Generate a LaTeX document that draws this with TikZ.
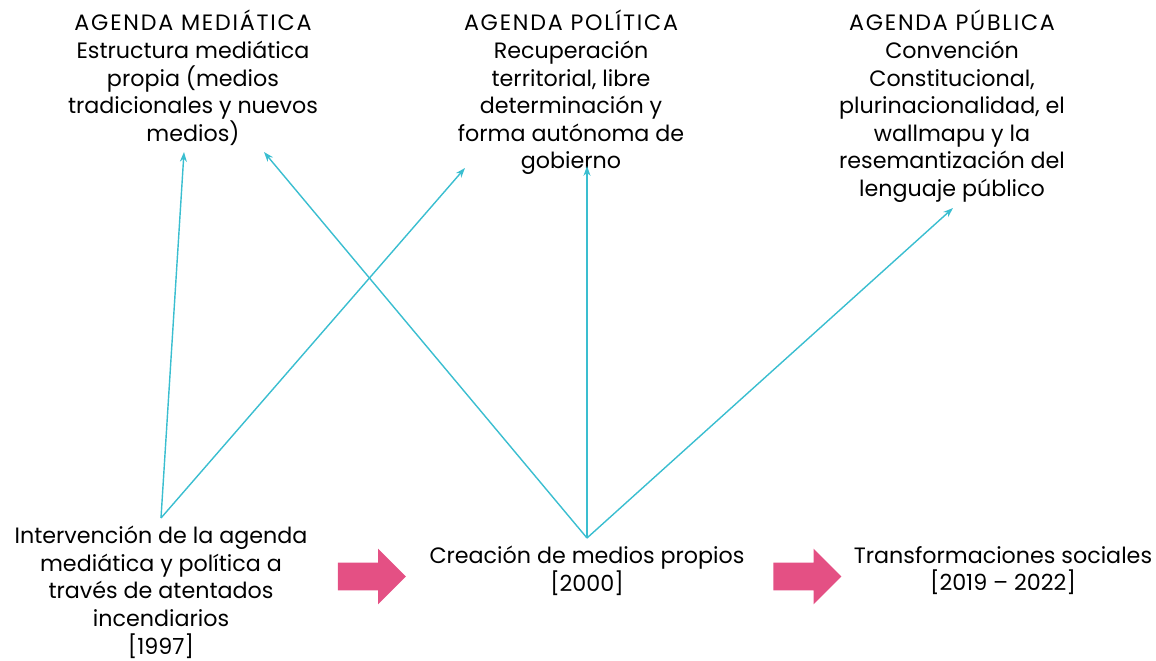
\documentclass[tikz,border=0pt]{standalone}
\usepackage{fontspec}
\setmainfont{Poppins}
\newfontfamily\titlefont{Poppins}[LetterSpace=8]
\usetikzlibrary{arrows.meta,shapes.arrows,positioning}
\definecolor{cyanline}{RGB}{58,190,208}
\definecolor{pinkarrow}{RGB}{228,80,132}

\begin{document}
\begin{tikzpicture}[x=0.025cm, y=-0.025cm,
   txt/.style={align=center, inner sep=0pt, anchor=north, font=\fontsize{15.8}{19.6}\selectfont},
   link/.style={draw=cyanline, line width=1pt, -{Stealth[length=7pt,width=5pt]}},
   bigarrow/.style={single arrow, fill=pinkarrow, draw=none, minimum height=1.7cm,
      single arrow head extend=0.35cm, inner sep=0.3375cm}]
   \useasboundingbox (0,0) rectangle (1156,660);

   % agendas
   \node[txt] (med) at (193,10) {{\titlefont AGENDA MEDIÁTICA}\\Estructura mediática\\propia (medios\\tradicionales y nuevos\\medios)};
   \node[txt] (pol) at (571,10) {{\titlefont AGENDA POLÍTICA}\\Recuperación\\territorial, libre\\determinación y\\forma autónoma de\\gobierno};
   \node[txt] (pub) at (952,10) {{\titlefont AGENDA PÚBLICA}\\Convención\\Constitucional,\\plurinacionalidad, el\\wallmapu y la\\resemantización del\\lenguaje público};

   % stages
   \node[txt] (int) at (161,526) {Intervención de la agenda\\mediática y política a\\través de atentados\\incendiarios\\{[1997]}};
   \node[txt] (cre) at (587,546) {Creación de medios propios\\{[2000]}};
   \node[txt] (tra) at (1003,546) {Transformaciones sociales\\{[2019 – 2022]}};

   % pink arrows
   \node[bigarrow] (step1) at (365,576.5) {};
   \node[bigarrow] (step2) at (800.5,576.5) {};

   % line ends
   \coordinate (intTop) at (161,518);
   \coordinate (creTop) at (587,538);
   \coordinate (medA) at (184,152);
   \coordinate (medB) at (264,152);
   \coordinate (polA) at (465,168);
   \coordinate (polB) at (587,166);
   \coordinate (pubA) at (953,208);

   % links
   \draw[link] (intTop) -- (medA);
   \draw[link] (intTop) -- (polA);
   \draw[link] (creTop) -- (medB);
   \draw[link] (creTop) -- (polB);
   \draw[link] (creTop) -- (pubA);
\end{tikzpicture}
\end{document}
